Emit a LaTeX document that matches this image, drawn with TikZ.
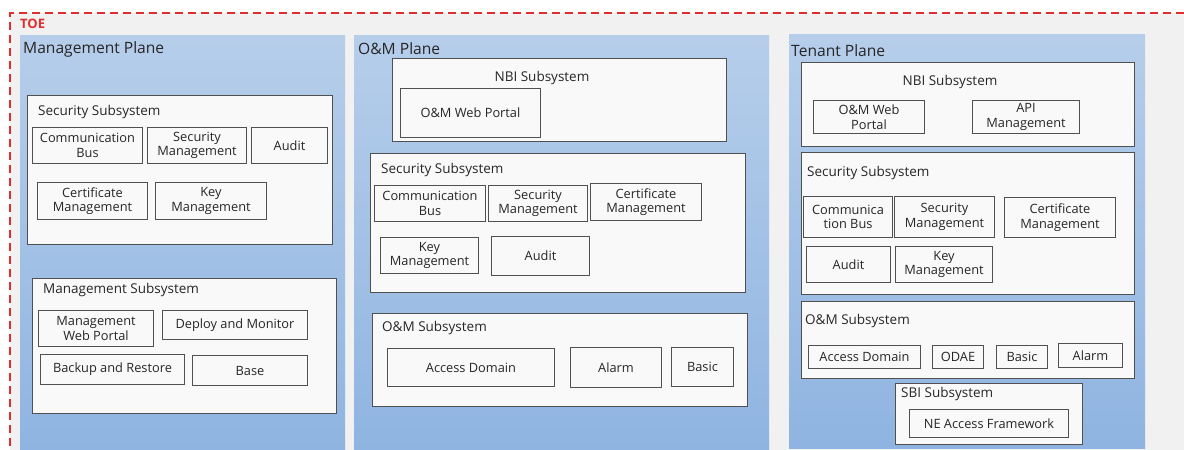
\documentclass[tikz,border=0pt]{standalone}
\usepackage{fontspec}
\setmainfont{Open Sans}
\definecolor{toered}{HTML}{E02E30}
\definecolor{bgray}{HTML}{F1F1F1}
\definecolor{ptop}{HTML}{B6CEEA}
\definecolor{pbot}{HTML}{8FB4E1}
\definecolor{boxfill}{HTML}{F9F9F9}
\definecolor{boxline}{HTML}{505050}
\definecolor{txt}{HTML}{262626}
\tikzset{
 plane/.style={top color=ptop, bottom color=pbot, draw=none, inner sep=0pt},
 subsys/.style={draw=boxline, fill=boxfill, line width=1pt, inner sep=0pt},
 item/.style={draw=boxline, fill=boxfill, line width=1pt, align=center, font=\fontsize{12.8}{14.5}\selectfont, text=txt, inner sep=0pt},
 ptitle/.style={anchor=west, font=\fontsize{15.6}{16}\selectfont, text=txt, inner sep=0pt},
 stitle/.style={anchor=west, font=\fontsize{13.5}{14}\selectfont, text=txt, inner sep=0pt},
}
\newcommand\bx[7]{%
 \pgfmathsetmacro\bxw{#5-#3}\pgfmathsetmacro\bxh{#6-#4}%
 \node[#1, anchor=north west, minimum width=\bxw pt, minimum height=\bxh pt] (#2) at (#3,#4) {#7};}
\begin{document}
\begin{tikzpicture}[x=1pt,y=-1pt]
\useasboundingbox (0,0) rectangle (1184,450);
\fill[white] (0,0) rectangle (1184,450);
\fill[bgray] (10,13) rectangle (1184,450);
\draw[toered, line width=2pt, dash pattern=on 8pt off 5pt] (1184,13) -- (10,13) -- (10,452);
\node[anchor=west, inner sep=0pt, text=toered, font=\fontsize{13}{14}\selectfont\bfseries] (toe) at (20,24) {TOE};

% Management Plane
\bx{plane}{mp}{20}{35}{345}{452}{}
\node[ptitle] (mpt) at (23,49) {Management Plane};
\bx{subsys}{mpsec}{27}{95}{332}{244}{}
\node[stitle] (mpsect) at (38,112) {Security Subsystem};
\bx{item}{mpcb}{32}{127}{142}{163}{Communication\\Bus}
\bx{item}{mpsm}{147}{127}{246}{163}{Security\\Management}
\bx{item}{mpau}{251}{127}{327}{163}{Audit}
\bx{item}{mpcm}{37}{182}{147}{219}{Certificate\\Management}
\bx{item}{mpkm}{155}{182}{266}{219}{Key\\Management}
\bx{subsys}{mpms}{32}{278}{336}{413}{}
\node[stitle] (mpmst) at (43,290) {Management Subsystem};
\bx{item}{mpwp}{38}{310}{153}{346}{Management\\Web Portal}
\bx{item}{mpdm}{162}{310}{307}{339}{Deploy and Monitor}
\bx{item}{mpbr}{40}{354}{184}{384}{Backup and Restore}
\bx{item}{mpba}{192}{355}{307}{385}{Base}

% O&M Plane
\bx{plane}{op}{354}{35}{769}{452}{}
\node[ptitle] (opt) at (358,49) {O\&M Plane};
\bx{subsys}{opnbi}{392}{58}{726}{141}{}
\node[stitle, anchor=center] (opnbit) at (542,78) {NBI Subsystem};
\bx{item}{opwp}{400}{88}{540}{137}{O\&M Web Portal}
\bx{subsys}{opsec}{370}{153}{745}{292}{}
\node[stitle] (opsect) at (381,170) {Security Subsystem};
\bx{item}{opcb}{374}{185}{485}{221}{Communication\\Bus}
\bx{item}{opsm}{488}{185}{587}{221}{Security\\Management}
\bx{item}{opcm}{590}{183}{701}{220}{Certificate\\Management}
\bx{item}{opkm}{380}{237}{478}{273}{Key\\Management}
\bx{item}{opau}{491}{236}{589}{275}{Audit}
\bx{subsys}{opom}{372}{313}{747}{406}{}
\node[stitle] (opomt) at (382,328) {O\&M Subsystem};
\bx{item}{opad}{387}{348}{554}{386}{Access Domain}
\bx{item}{opal}{570}{347}{661}{387}{Alarm}
\bx{item}{opbs}{671}{347}{733}{386}{Basic}

% Tenant Plane
\bx{plane}{tp}{789}{34}{1145}{448}{}
\node[ptitle] (tpt) at (791,51) {Tenant Plane};
\bx{subsys}{tpnbi}{801}{62}{1134}{146}{}
\node[stitle, anchor=center] (tpnbit) at (950,82) {NBI Subsystem};
\bx{item}{tpwp}{813}{100}{924}{133}{O\&M Web\\Portal}
\bx{item}{tpapi}{972}{100}{1079}{133}{API\\Management}
\bx{subsys}{tpsec}{801}{152}{1134}{294}{}
\node[stitle] (tpsect) at (807,173) {Security Subsystem};
\bx{item}{tpcb}{803}{196}{892}{237}{Communica\\tion Bus}
\bx{item}{tpsm}{894}{196}{994}{237}{Security\\Management}
\bx{item}{tpcm}{1004}{197}{1115}{237}{Certificate\\Management}
\bx{item}{tpau}{806}{246}{890}{282}{Audit}
\bx{item}{tpkm}{895}{246}{992}{282}{Key\\Management}
\bx{subsys}{tpom}{801}{301}{1134}{378}{}
\node[stitle] (tpomt) at (805,321) {O\&M Subsystem};
\bx{item}{tpad}{808}{345}{920}{368}{Access Domain}
\bx{item}{tpod}{932}{345}{983}{368}{ODAE}
\bx{item}{tpbs}{996}{345}{1047}{368}{Basic}
\bx{item}{tpal}{1058}{343}{1122}{367}{Alarm}
\bx{subsys}{tpsbi}{895}{383}{1082}{444}{}
\node[stitle] (tpsbit) at (901,394) {SBI Subsystem};
\bx{item}{tpne}{909}{409}{1068}{437}{NE Access Framework}
\end{tikzpicture}
\end{document}
